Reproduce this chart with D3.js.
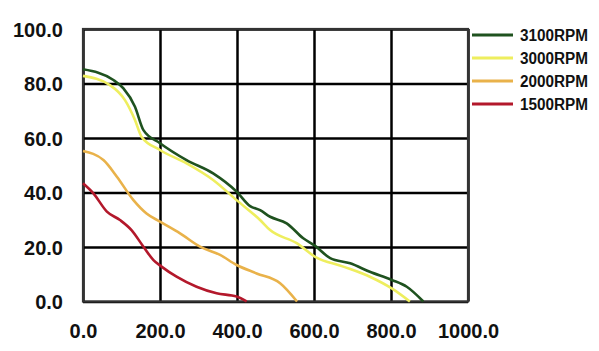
<!DOCTYPE html>
<html>
<head>
<meta charset="utf-8">
<script src="https://cdn.jsdelivr.net/npm/d3@7/dist/d3.min.js"></script>
<style>
  body { margin: 0; background: #fff; }
  .axis text { font-family: "Liberation Sans", Arial, sans-serif; font-weight: bold; font-size: 20px; fill: #111; }
  .axis .domain { display: none; }
  .axis line { stroke: #000; stroke-width: 2.5px; }
  .legend text { font-family: "Liberation Sans", Arial, sans-serif; font-weight: bold; font-size: 16px; fill: #111; }
</style>
</head>
<body>
<svg class="fan-chart" width="599" height="351"></svg>
<script>
// curve data (x = flow, y = pressure)
var rpm3100X = [0, 79, 105, 135, 157, 200, 269, 338, 399, 434, 460, 486, 529, 572, 603, 642, 694, 745, 802, 841, 884];
var rpm3100Y = [85.2, 81.3, 78.2, 71.5, 62.9, 58.1, 51.9, 47.0, 40.3, 35.0, 33.5, 31.1, 28.7, 23.2, 20.4, 15.9, 14.0, 10.9, 7.9, 5.4, 0];

var rpm3000X = [0, 70, 109, 135, 152, 200, 269, 338, 399, 460, 486, 555, 603, 676, 745, 802, 849];
var rpm3000Y = [82.8, 79.4, 73.9, 66.6, 60.5, 55.6, 50.7, 44.6, 37.2, 29.9, 26.2, 21.4, 16.4, 12.8, 9.1, 4.8, 0];

var rpm2000X = [0, 53, 88, 131, 165, 200, 252, 304, 356, 399, 451, 512, 556];
var rpm2000Y = [55.2, 51.9, 45.8, 37.2, 32.3, 29.3, 25.0, 20.1, 17.1, 13.4, 10.3, 6.7, 0];

var rpm1500X = [0, 27, 62, 96, 126, 157, 183, 204, 243, 295, 347, 399, 425];
var rpm1500Y = [43.4, 39.7, 33.0, 29.9, 26.2, 20.1, 15.2, 12.8, 9.1, 5.4, 3.0, 1.8, 0];

var seriesNames = ['3100RPM', '3000RPM', '2000RPM', '1500RPM'];
var seriesColors = ['#1f521f', '#eeee5e', '#e9b24a', '#b3182b'];

var xTicks = [0, 200, 400, 600, 800, 1000];
var yTicks = [0, 20, 40, 60, 80, 100];

var svg = d3.select('svg.fan-chart');

// plot area inside the svg
var padding = {t: 29, l: 83};
var chartWidth = 385;
var chartHeight = 272.5;

var xScale = d3.scaleLinear().domain([0, 1000]).range([0, chartWidth]);
var yScale = d3.scaleLinear().domain([0, 100]).range([chartHeight, 0]);

var chartG = svg.append('g')
    .attr('transform', 'translate(' + [padding.l, padding.t] + ')');

// grid lines come from the axes' ticks
var yAxisG = chartG.append('g')
    .attr('class', 'y axis')
    .call(d3.axisLeft(yScale).tickValues(yTicks).tickSize(-chartWidth).tickPadding(20).tickFormat(d3.format('.1f')));
yAxisG.selectAll('text').attr('dy', '0.35em');

var xAxisG = chartG.append('g')
    .attr('class', 'x axis')
    .attr('transform', 'translate(' + [0, chartHeight] + ')')
    .call(d3.axisBottom(xScale).tickValues(xTicks).tickSize(-chartHeight).tickPadding(22).tickFormat(d3.format('.1f')));
xAxisG.selectAll('text').attr('dy', '0.71em');

// outer frame
chartG.append('rect')
    .attr('width', chartWidth)
    .attr('height', chartHeight)
    .attr('fill', 'none')
    .attr('stroke', '#333')
    .attr('stroke-width', 2.2);

var series = [
    {name: seriesNames[0], xs: rpm3100X, ys: rpm3100Y, color: seriesColors[0]},
    {name: seriesNames[1], xs: rpm3000X, ys: rpm3000Y, color: seriesColors[1]},
    {name: seriesNames[2], xs: rpm2000X, ys: rpm2000Y, color: seriesColors[2]},
    {name: seriesNames[3], xs: rpm1500X, ys: rpm1500Y, color: seriesColors[3]}
];

var line = d3.line()
    .x(function(d) { return xScale(d[0]); })
    .y(function(d) { return yScale(d[1]); })
    .curve(d3.curveMonotoneX);

// draw from back to front so the green is on top
series.slice().reverse().forEach(function(s) {
    var pts = s.xs.map(function(x, i) { return [x, s.ys[i]]; });
    chartG.append('path')
        .attr('d', line(pts))
        .attr('fill', 'none')
        .attr('stroke', s.color)
        .attr('stroke-width', 2.6)
        .attr('stroke-linejoin', 'round');
});

// legend on the right
var legendG = svg.append('g')
    .attr('class', 'legend')
    .attr('transform', 'translate(472,35)');

var rows = legendG.selectAll('.row')
    .data(series)
    .enter()
    .append('g')
    .attr('class', 'row')
    .attr('transform', function(d, i) { return 'translate(0,' + (i * 23) + ')'; });

rows.append('line')
    .attr('x1', 0)
    .attr('x2', 41)
    .attr('stroke', function(d) { return d.color; })
    .attr('stroke-width', 3);

rows.append('text')
    .attr('x', 48)
    .attr('dy', '0.35em')
    .attr('textLength', 68)
    .attr('lengthAdjust', 'spacingAndGlyphs')
    .text(function(d) { return d.name; });
</script>
</body>
</html>
